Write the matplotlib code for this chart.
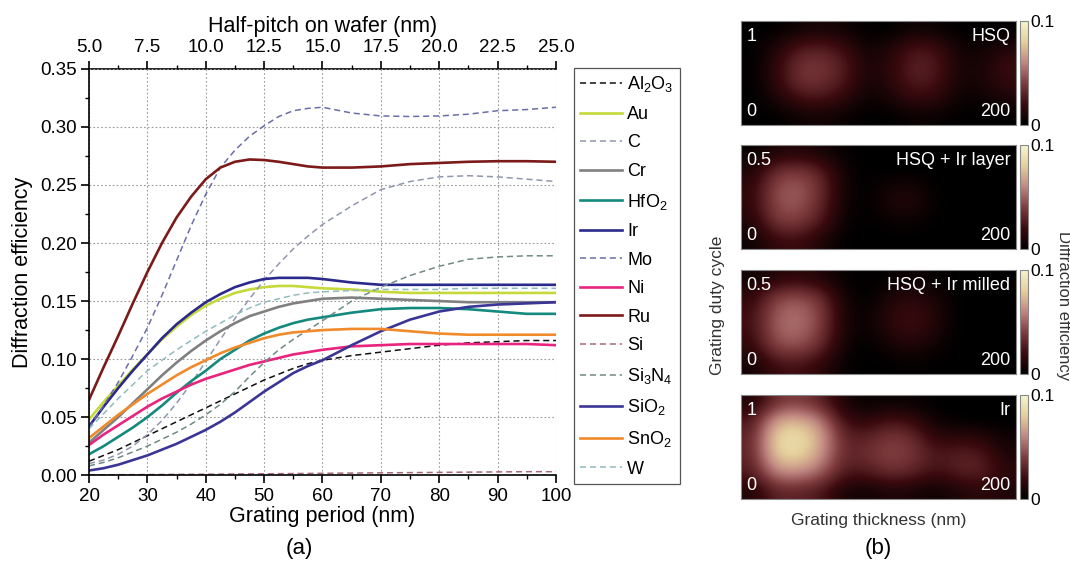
import numpy as np
import matplotlib
matplotlib.use('Agg')
import matplotlib.pyplot as plt
from matplotlib.colors import LinearSegmentedColormap
from matplotlib.ticker import MultipleLocator, FormatStrFormatter

plt.rcParams['font.family'] = ['Liberation Sans', 'DejaVu Sans']
plt.rcParams['mathtext.default'] = 'regular'

# grating period (nm): every 2.5 nm up to 60, then every 5 nm
period = [20, 22.5, 25, 27.5, 30, 32.5, 35, 37.5, 40, 42.5, 45, 47.5, 50, 52.5, 55, 57.5, 60,
          65, 70, 75, 80, 85, 90, 95, 100]

# diffraction efficiency
al2o3 = [0.012, 0.017, 0.022, 0.028, 0.034, 0.040, 0.046, 0.052, 0.058, 0.064, 0.070, 0.076, 0.082, 0.087, 0.092, 0.096, 0.099,
         0.103, 0.106, 0.109, 0.112, 0.114, 0.115, 0.116, 0.116]
au = [0.048, 0.063, 0.077, 0.091, 0.104, 0.117, 0.128, 0.138, 0.146, 0.152, 0.157, 0.160, 0.162, 0.163, 0.163, 0.162, 0.161,
      0.160, 0.158, 0.157, 0.157, 0.157, 0.157, 0.157, 0.157]
c = [0.010, 0.013, 0.018, 0.025, 0.035, 0.047, 0.062, 0.079, 0.098, 0.117, 0.135, 0.152, 0.168, 0.182, 0.195, 0.206, 0.216,
     0.232, 0.246, 0.253, 0.257, 0.258, 0.257, 0.255, 0.253]
cr = [0.028, 0.039, 0.050, 0.062, 0.074, 0.086, 0.097, 0.107, 0.116, 0.124, 0.131, 0.137, 0.141, 0.145, 0.148, 0.150, 0.152,
      0.153, 0.152, 0.151, 0.150, 0.149, 0.149, 0.149, 0.149]
hfo2 = [0.018, 0.025, 0.033, 0.041, 0.050, 0.060, 0.071, 0.081, 0.090, 0.100, 0.108, 0.116, 0.122, 0.127, 0.131, 0.134, 0.136,
        0.140, 0.143, 0.144, 0.144, 0.143, 0.141, 0.139, 0.139]
ir = [0.042, 0.059, 0.075, 0.090, 0.104, 0.118, 0.130, 0.140, 0.149, 0.156, 0.162, 0.166, 0.169, 0.170, 0.170, 0.170, 0.169,
      0.166, 0.164, 0.164, 0.164, 0.164, 0.164, 0.164, 0.164]
mo = [0.041, 0.060, 0.080, 0.103, 0.127, 0.155, 0.185, 0.215, 0.242, 0.265, 0.280, 0.292, 0.301, 0.309, 0.314, 0.316, 0.317,
      0.312, 0.3095, 0.309, 0.3095, 0.311, 0.314, 0.315, 0.317]
ni = [0.026, 0.035, 0.043, 0.051, 0.059, 0.066, 0.072, 0.078, 0.083, 0.087, 0.091, 0.095, 0.098, 0.101, 0.104, 0.106, 0.108,
      0.111, 0.112, 0.113, 0.113, 0.113, 0.113, 0.113, 0.112]
ru = [0.065, 0.093, 0.120, 0.148, 0.175, 0.200, 0.222, 0.240, 0.255, 0.265, 0.270, 0.272, 0.2715, 0.270, 0.268, 0.266, 0.265,
      0.265, 0.266, 0.268, 0.269, 0.270, 0.2705, 0.2705, 0.270]
si = [0.0003, 0.00035, 0.0004, 0.00045, 0.0005, 0.0006, 0.0007, 0.00075, 0.0008, 0.0009, 0.001, 0.0011, 0.0012, 0.0013, 0.0014, 0.0015, 0.0016,
      0.0018, 0.002, 0.0022, 0.0024, 0.0026, 0.0028, 0.003, 0.003]
si3n4 = [0.008, 0.011, 0.015, 0.020, 0.025, 0.031, 0.037, 0.044, 0.052, 0.061, 0.072, 0.085, 0.097, 0.108, 0.117, 0.125, 0.133,
         0.150, 0.162, 0.172, 0.180, 0.186, 0.188, 0.189, 0.189]
sio2 = [0.004, 0.006, 0.009, 0.013, 0.017, 0.022, 0.027, 0.033, 0.039, 0.046, 0.054, 0.063, 0.072, 0.080, 0.088, 0.094, 0.099,
        0.112, 0.124, 0.134, 0.141, 0.145, 0.147, 0.148, 0.149]
sno2 = [0.032, 0.042, 0.052, 0.061, 0.070, 0.078, 0.086, 0.093, 0.099, 0.105, 0.110, 0.114, 0.118, 0.121, 0.123, 0.124, 0.125,
        0.126, 0.126, 0.124, 0.122, 0.121, 0.121, 0.121, 0.121]
w = [0.040, 0.053, 0.066, 0.078, 0.090, 0.099, 0.108, 0.116, 0.124, 0.131, 0.138, 0.144, 0.149, 0.152, 0.155, 0.157, 0.158,
     0.159, 0.160, 0.160, 0.160, 0.161, 0.161, 0.161, 0.161]

materials = ['Al$_2$O$_3$', 'Au', 'C', 'Cr', 'HfO$_2$', 'Ir', 'Mo', 'Ni', 'Ru', 'Si',
             'Si$_3$N$_4$', 'SiO$_2$', 'SnO$_2$', 'W']
series = [al2o3, au, c, cr, hfo2, ir, mo, ni, ru, si, si3n4, sio2, sno2, w]
colors = ['#111111', '#c5d93a', '#9096ad', '#808080', '#14897e', '#2b2a8c', '#6a6ea8',
          '#e8247f', '#7c1a1a', '#a86a78', '#6f8a86', '#3b3596', '#f08a2a', '#8fbcbc']
dashed = ['Al$_2$O$_3$', 'C', 'Mo', 'Si', 'Si$_3$N$_4$', 'W']

# coarse maps of the efficiency (rows: duty cycle top->bottom, cols: thickness 0->200 nm)
hsq = [
    [0, 0, 0.005, 0.008, 0.005, 0, 0, 0.005, 0.004, 0, 0, 0],
    [0, 0.010, 0.025, 0.028, 0.020, 0.005, 0.010, 0.024, 0.022, 0.006, 0.004, 0.012],
    [0, 0.015, 0.036, 0.038, 0.028, 0.008, 0.015, 0.030, 0.027, 0.008, 0.008, 0.020],
    [0, 0.015, 0.036, 0.036, 0.026, 0.007, 0.014, 0.028, 0.025, 0.007, 0.008, 0.018],
    [0, 0.008, 0.022, 0.024, 0.016, 0.003, 0.008, 0.018, 0.016, 0.004, 0.004, 0.010],
    [0, 0, 0.004, 0.006, 0.003, 0, 0, 0.003, 0.003, 0, 0, 0],
]
hsq_ir_layer = [
    [0.003, 0.010, 0.012, 0.008, 0.002, 0, 0, 0, 0, 0, 0, 0],
    [0.010, 0.035, 0.040, 0.030, 0.005, 0, 0, 0, 0, 0, 0, 0],
    [0.015, 0.045, 0.050, 0.035, 0.006, 0, 0.008, 0.010, 0, 0, 0, 0],
    [0.015, 0.045, 0.048, 0.032, 0.005, 0, 0.010, 0.012, 0.002, 0, 0, 0],
    [0.010, 0.038, 0.040, 0.025, 0.003, 0, 0.002, 0.003, 0, 0, 0, 0],
    [0.004, 0.018, 0.020, 0.010, 0, 0, 0, 0, 0, 0, 0, 0],
]
hsq_ir_milled = [
    [0.005, 0.012, 0.015, 0.010, 0.002, 0, 0.002, 0.004, 0.002, 0, 0, 0],
    [0.015, 0.040, 0.045, 0.035, 0.006, 0, 0.010, 0.014, 0.008, 0, 0, 0],
    [0.020, 0.050, 0.055, 0.042, 0.008, 0.002, 0.015, 0.022, 0.012, 0, 0, 0],
    [0.020, 0.050, 0.055, 0.040, 0.008, 0.002, 0.014, 0.020, 0.010, 0, 0, 0],
    [0.015, 0.042, 0.045, 0.032, 0.005, 0, 0.006, 0.010, 0.004, 0, 0, 0],
    [0.006, 0.020, 0.022, 0.015, 0.002, 0, 0, 0.002, 0, 0, 0, 0],
]
ir_map = [
    [0.010, 0.035, 0.040, 0.030, 0.008, 0.002, 0.004, 0.003, 0, 0, 0, 0],
    [0.025, 0.070, 0.075, 0.060, 0.020, 0.015, 0.025, 0.020, 0.005, 0, 0, 0],
    [0.030, 0.085, 0.090, 0.070, 0.030, 0.030, 0.040, 0.035, 0.015, 0.018, 0.015, 0.005],
    [0.030, 0.080, 0.085, 0.065, 0.030, 0.035, 0.042, 0.038, 0.025, 0.030, 0.028, 0.010],
    [0.025, 0.060, 0.062, 0.050, 0.025, 0.025, 0.035, 0.030, 0.020, 0.028, 0.030, 0.015],
    [0.010, 0.030, 0.030, 0.025, 0.008, 0.005, 0.010, 0.008, 0.004, 0.010, 0.015, 0.010],
]
maps = [hsq, hsq_ir_layer, hsq_ir_milled, ir_map]
map_titles = ['HSQ', 'HSQ + Ir layer', 'HSQ + Ir milled', 'Ir']
duty_max = ['1', '0.5', '0.5', '1']

fig = plt.figure(figsize=(10.7, 5.65), dpi=100)

# ---- (a) efficiency vs grating period ----
ax = fig.add_axes([0.0832, 0.159, 0.4364, 0.719])
for name, vals, col in zip(materials, series, colors):
    if name in dashed:
        ax.plot(period, vals, color=col, lw=1.1, ls=(0, (4, 2.5)), label=name)
    else:
        ax.plot(period, vals, color=col, lw=1.9, label=name)

ax.set_xlim(20, 100)
ax.set_ylim(0, 0.35)
ax.xaxis.set_major_locator(MultipleLocator(10))
ax.xaxis.set_minor_locator(MultipleLocator(5))
ax.yaxis.set_major_locator(MultipleLocator(0.05))
ax.yaxis.set_minor_locator(MultipleLocator(0.025))
ax.yaxis.set_major_formatter(FormatStrFormatter('%.2f'))
ax.tick_params(which='major', length=6, width=1.2, labelsize=13.5, pad=3)
ax.tick_params(which='minor', length=3, width=1.0)
ax.grid(True, which='major', ls=(0, (1.5, 2)), color='#999999', lw=0.8)
ax.spines['right'].set_visible(False)
ax.spines['top'].set_visible(False)
for s in ['left', 'bottom']:
    ax.spines[s].set_linewidth(1.2)
ax.set_xlabel('Grating period (nm)', fontsize=15.5, labelpad=1)
ax.set_ylabel('Diffraction efficiency', fontsize=15.5, labelpad=5)

top = ax.secondary_xaxis('top', functions=(lambda p: p / 4, lambda h: h * 4))
top.xaxis.set_major_locator(MultipleLocator(2.5))
top.xaxis.set_minor_locator(MultipleLocator(1.25))
top.xaxis.set_major_formatter(FormatStrFormatter('%.1f'))
top.tick_params(which='major', length=6, width=1.2, labelsize=13.5, pad=3)
top.tick_params(which='minor', length=3, width=1.0)
top.spines['top'].set_linewidth(1.2)
top.set_xlabel('Half-pitch on wafer (nm)', fontsize=15.5, labelpad=5)

leg = ax.legend(loc='upper left', bbox_to_anchor=(574 / 1070, 1 - 68 / 565),
                bbox_transform=fig.transFigure, borderaxespad=0, fontsize=13,
                handlelength=2.3, handletextpad=0.3, labelspacing=0.64,
                fancybox=False, framealpha=1, edgecolor='#555555',
                borderpad=0.35)
leg.get_frame().set_linewidth(0.9)

fig.text(0.28, 0.03, '(a)', fontsize=16, ha='center', va='center')

# ---- (b) efficiency maps ----
cmap = LinearSegmentedColormap.from_list(
    'eff', ['#000000', '#3a0a0e', '#7e3b3e', '#c08680', '#e5cf9c', '#f4f6cc'])
bottoms = [0.779, 0.559, 0.338, 0.117]
for data, title, dmax, b in zip(maps, map_titles, duty_max, bottoms):
    m = fig.add_axes([0.6925, b, 0.257, 0.184])
    img = m.imshow(np.array(data), cmap=cmap, vmin=0, vmax=0.1, aspect='auto',
                   interpolation='bicubic', extent=[0, 200, 0, 1])
    m.set_xticks([])
    m.set_yticks([])
    for s in m.spines.values():
        s.set_color('#888888')
        s.set_linewidth(0.8)
    m.text(0.02, 0.93, dmax, color='white', fontsize=13, ha='left', va='top', transform=m.transAxes)
    m.text(0.02, 0.05, '0', color='white', fontsize=13, ha='left', va='bottom', transform=m.transAxes)
    m.text(0.98, 0.05, '200', color='white', fontsize=13, ha='right', va='bottom', transform=m.transAxes)
    m.text(0.98, 0.93, title, color='white', fontsize=13, ha='right', va='top', transform=m.transAxes)

    cax = fig.add_axes([0.9533, b, 0.0075, 0.184])
    cb = fig.colorbar(img, cax=cax, ticks=[0, 0.1])
    cb.ax.set_yticklabels(['0', '0.1'])
    cb.ax.tick_params(length=0, labelsize=12.5, pad=2)
    cb.outline.set_edgecolor('#888888')
    cb.outline.set_linewidth(0.8)

fig.text(0.671, 0.46, 'Grating duty cycle', rotation=90, fontsize=12.5, ha='center', va='center', color='#333333')
fig.text(0.9935, 0.46, 'Diffraction efficiency', rotation=-90, fontsize=12, ha='center', va='center', color='#333333')
fig.text(0.821, 0.078, 'Grating thickness (nm)', fontsize=12.5, ha='center', va='center', color='#333333')
fig.text(0.821, 0.03, '(b)', fontsize=16, ha='center', va='center')

fig.savefig('out.png', dpi=100)
